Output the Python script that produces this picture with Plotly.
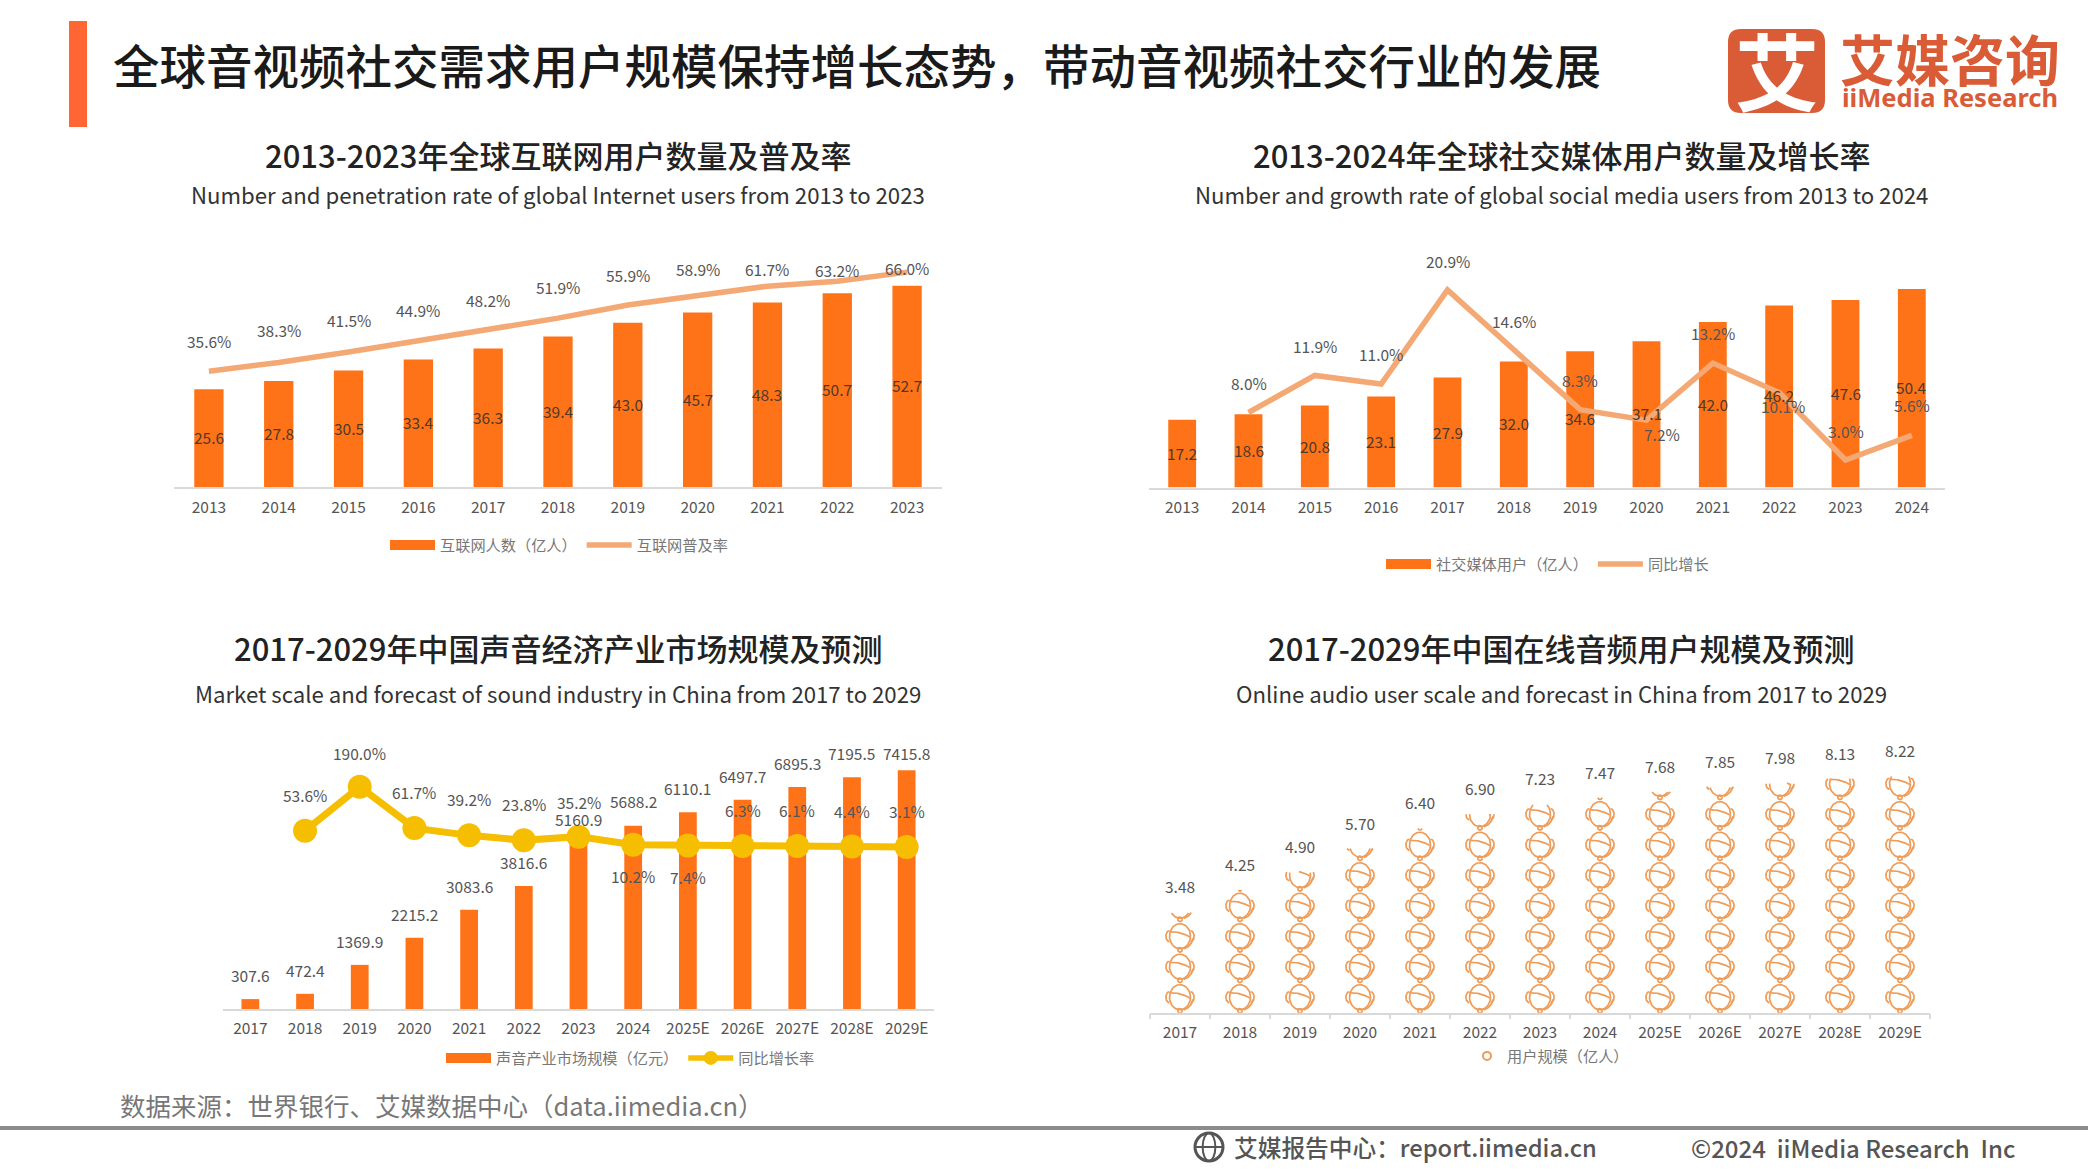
import numpy as np
import plotly.graph_objects as go

W, H = 2088, 1169
CJK = "Noto Sans CJK SC"

# ---------- data ----------
years_a = ["2013","2014","2015","2016","2017","2018","2019","2020","2021","2022","2023"]
internet_users = [25.6,27.8,30.5,33.4,36.3,39.4,43.0,45.7,48.3,50.7,52.7]
internet_rate = [35.6,38.3,41.5,44.9,48.2,51.9,55.9,58.9,61.7,63.2,66.0]

years_b = ["2013","2014","2015","2016","2017","2018","2019","2020","2021","2022","2023","2024"]
social_users = [17.2,18.6,20.8,23.1,27.9,32.0,34.6,37.1,42.0,46.2,47.6,50.4]
social_growth = [None,8.0,11.9,11.0,20.9,14.6,8.3,7.2,13.2,10.1,3.0,5.6]

years_c = ["2017","2018","2019","2020","2021","2022","2023","2024","2025E","2026E","2027E","2028E","2029E"]
sound_market = [307.6,472.4,1369.9,2215.2,3083.6,3816.6,5160.9,5688.2,6110.1,6497.7,6895.3,7195.5,7415.8]
sound_growth = [None,53.6,190.0,61.7,39.2,23.8,35.2,10.2,7.4,6.3,6.1,4.4,3.1]

audio_users = [3.48,4.25,4.90,5.70,6.40,6.90,7.23,7.47,7.68,7.85,7.98,8.13,8.22]

# ---------- styles ----------
BAR = "#FF7318"
LINE = "#F4A874"
YEL = "#F6BE00"
HEAD = "#EE9C58"
TXT = "#555555"
INBAR = "#4F3A2A"
AXIS = "#D9D9D9"
SHIFT_A = [30,32,32,31,30,31,30,26,17,11,4]
SHIFT_B = [0,30,29,30,29,29,30,-14,30,-13,29,30]
XSHIFT_B = [0,0,0,0,0,0,0,15,0,4,0,0]
SHIFT_C_BAR = [24,24,24,24,24,24,24,25,24,24,24,24,17]
SHIFT_C_LINE = [0,36,34,36,36,36,35,-31,-31,36,36,36,36]

fig = go.Figure()
ann, shapes = [], []

def px_x(p): return p / W
def px_y(p): return 1 - p / H

def text(px, py, s, size, color="#222222", anchor="left", weight=None, family=CJK):
    f = dict(size=size, color=color, family=family)
    if weight: f["weight"] = weight
    ann.append(dict(xref="paper", yref="paper", x=px_x(px), y=px_y(py), text=s, showarrow=False,
                    xanchor=anchor, yanchor="middle", font=f, borderpad=0, borderwidth=0))

def label(xa, ya, x, y, s, ys=0, xs=0, size=15.5, color=TXT):
    ann.append(dict(xref=xa, yref=ya, x=x, y=y, text=s, showarrow=False, xanchor="center", yanchor="middle",
                    yshift=ys, xshift=xs, font=dict(size=size, color=color, family=CJK)))

axes = {}
def xaxis(key, left, right, cats, **kw):
    d = dict(domain=[px_x(left), px_x(right)], showgrid=False, zeroline=False, showline=True, linecolor=AXIS,
             linewidth=1.5, ticks="", ticklen=0, ticklabelstandoff=5, type="category",
             categoryorder="array", categoryarray=cats, range=[-0.5, len(cats) - 0.5], autorange=False,
             tickfont=dict(size=15.5, color=TXT, family=CJK), anchor=kw.pop("anchor"), fixedrange=True)
    d.update(kw)
    axes[key] = d

def yaxis(key, base, top, scale, zero, anchor, overlay=None):
    lo = (zero - base) / scale
    hi = (zero - top) / scale
    d = dict(domain=[px_y(base), px_y(top)], range=[lo, hi], visible=False, anchor=anchor, fixedrange=True)
    if overlay:
        d["overlaying"] = overlay
        d["side"] = "right"
    axes[key] = d

def legend_item(name, legend, xa, ya, color, width, marker=None):
    kw = dict(mode="lines", line=dict(color=color, width=width))
    if marker:
        kw = dict(mode="lines+markers", line=dict(color=color, width=width), marker=dict(color=color, size=marker))
    fig.add_trace(go.Scatter(x=[None], y=[None], name=name, legend=legend, xaxis=xa, yaxis=ya, showlegend=True, **kw))

# ---------- panel 1 ----------
xaxis("xaxis", 174, 942, years_a, anchor="y")
yaxis("yaxis", 487.3, 250, 3.826, 487.3, "x")
yaxis("yaxis2", 487.3, 250, 3.26, 487.3, "x", overlay="y")
fig.add_trace(go.Bar(x=years_a, y=internet_users, width=0.42, marker=dict(color=BAR, line=dict(width=0)),
                     xaxis="x", yaxis="y", showlegend=False))
fig.add_trace(go.Scatter(x=years_a, y=internet_rate, mode="lines", line=dict(color=LINE, width=5.5),
                         xaxis="x", yaxis="y2", showlegend=False))
for i, c in enumerate(years_a):
    label("x", "y", i, internet_users[i] / 2, f"{internet_users[i]:.1f}", ys=1, color=INBAR)
    label("x", "y2", i, internet_rate[i], f"{internet_rate[i]:.1f}%", ys=SHIFT_A[i])
legend_item("互联网人数（亿人）", "legend", "x", "y", BAR, 10)
legend_item("互联网普及率", "legend", "x", "y", LINE, 5.5)

# ---------- panel 2 ----------
xaxis("xaxis2", 1149, 1945, years_b, anchor="y3")
yaxis("yaxis3", 487.5, 250, 3.94, 487.5, "x2")
yaxis("yaxis4", 487.5, 250, 9.5, 488.5, "x2", overlay="y3")
fig.add_trace(go.Bar(x=years_b, y=social_users, width=0.42, marker=dict(color=BAR, line=dict(width=0)),
                     xaxis="x2", yaxis="y3", showlegend=False))
fig.add_trace(go.Scatter(x=years_b, y=social_growth, mode="lines", line=dict(color=LINE, width=5.5),
                         xaxis="x2", yaxis="y4", showlegend=False))
for i, c in enumerate(years_b):
    label("x2", "y3", i, social_users[i] / 2, f"{social_users[i]:.1f}", ys=1, color=INBAR)
    if social_growth[i] is not None:
        label("x2", "y4", i, social_growth[i], f"{social_growth[i]:.1f}%", ys=SHIFT_B[i], xs=XSHIFT_B[i])
legend_item("社交媒体用户（亿人）", "legend2", "x2", "y3", BAR, 10)
legend_item("同比增长", "legend2", "x2", "y3", LINE, 5.5)

# ---------- panel 3 ----------
xaxis("xaxis3", 223, 934, years_c, anchor="y5")
yaxis("yaxis5", 1009, 750, 0.0322, 1009, "x3")
yaxis("yaxis6", 1009, 750, 0.3226, 848, "x3", overlay="y5")
fig.add_trace(go.Bar(x=years_c, y=sound_market, width=0.325, marker=dict(color=BAR, line=dict(width=0)),
                     xaxis="x3", yaxis="y5", showlegend=False))
fig.add_trace(go.Scatter(x=years_c, y=sound_growth, mode="lines+markers", line=dict(color=YEL, width=7),
                         marker=dict(color=YEL, size=24), xaxis="x3", yaxis="y6", showlegend=False))
for i, c in enumerate(years_c):
    label("x3", "y5", i, sound_market[i], f"{sound_market[i]:.1f}", ys=SHIFT_C_BAR[i])
    if sound_growth[i] is not None:
        label("x3", "y6", i, sound_growth[i], f"{sound_growth[i]:.1f}%", ys=SHIFT_C_LINE[i])
legend_item("声音产业市场规模（亿元）", "legend3", "x3", "y5", BAR, 10)
legend_item("同比增长率", "legend3", "x3", "y5", YEL, 5.5, marker=14)

# ---------- panel 4 : pictorial column of heads, clipped at each value ----------
PX_X, PX_Y, PERIOD = 60.0, 28.8, 30.5
idx = list(range(len(years_c)))
t = np.linspace(0, 2 * np.pi, 61)
def head_parts():
    parts = []
    parts.append((10.5 * np.cos(t), 15.5 + 12.5 * np.sin(t)))                     # face
    parts.append((2.3 * np.cos(t), 1.9 + 2.3 * np.sin(t)))                        # neck knob
    s = np.linspace(-1, 1, 21)
    parts.append((10 * s, 17.3 - 2.6 * s + 1.5 * (1 - s ** 2)))                   # hair line
    a = np.linspace(np.pi / 2, 3 * np.pi / 2, 21)
    parts.append((-10.5 + 3.6 * np.cos(a), 15.5 + 5.5 * np.sin(a)))               # left ear
    parts.append((10.5 - 3.6 * np.cos(a), 15.5 + 5.5 * np.sin(a)))                # right ear
    b = np.linspace(-0.15, -1.3, 21)
    parts.append((13.2 * np.cos(b), 15.5 + 13.2 * np.sin(b)))                     # headset mic
    return parts
xs, ys = [], []
for i, v in zip(idx, audio_users):
    top_px = v * PX_Y
    k = 0
    while k * PERIOD < top_px:
        for px, py in head_parts():
            yy = py + k * PERIOD
            m = yy <= top_px
            xs += list(i + px / PX_X) + [None]
            ys += [float(a) / PX_Y if ok else None for a, ok in zip(yy, m)] + [None]
        k += 1
xaxis("xaxis4", 1150, 1930, years_c, anchor="y7", type="linear", range=[-0.5, 12.5], tickmode="array",
      categoryorder=None, categoryarray=None, tickvals=idx, ticktext=years_c,
      minor=dict(tickmode="array", tickvals=[i - 0.5 for i in range(14)], ticks="outside", ticklen=5,
                 tickcolor=AXIS, tickwidth=1.5, showgrid=False))
yaxis("yaxis7", 1012.7, 750, PX_Y, 1012.7, "x4")
fig.add_trace(go.Scatter(x=xs, y=ys, mode="lines", line=dict(color=HEAD, width=1.7), connectgaps=False,
                         xaxis="x4", yaxis="y7", showlegend=False, name="用户规模（亿人）"))
for i, v in zip(idx, audio_users):
    label("x4", "y7", i, v, f"{v:.2f}", ys=26)
fig.add_trace(go.Scatter(x=[None], y=[None], name="用户规模（亿人）", mode="markers", legend="legend4",
                         marker=dict(symbol="circle-open", color=HEAD, size=8, line=dict(width=2)),
                         xaxis="x4", yaxis="y7", showlegend=True))

# ---------- header / titles ----------
shapes.append(dict(type="rect", xref="paper", yref="paper", x0=px_x(69), x1=px_x(87), y0=px_y(127), y1=px_y(21),
                   fillcolor="#FF6633", line=dict(width=0)))
text(113, 64, "全球音视频社交需求用户规模保持增长态势，带动音视频社交行业的发展", 46.5, "#1A1A1A", weight=500)

text(558, 154, "2013-2023年全球互联网用户数量及普及率", 31, "#222222", "center", weight=500)
text(558, 194, "Number and penetration rate of global Internet users from 2013 to 2023", 22.2, "#333333", "center")
text(1561, 154, "2013-2024年全球社交媒体用户数量及增长率", 31, "#222222", "center", weight=500)
text(1561, 194, "Number and growth rate of global social media users from 2013 to 2024", 22.2, "#333333", "center")
text(558, 647, "2017-2029年中国声音经济产业市场规模及预测", 31, "#222222", "center", weight=500)
text(558, 693, "Market scale and forecast of sound industry in China from 2017 to 2029", 22.2, "#333333", "center")
text(1561, 647, "2017-2029年中国在线音频用户规模及预测", 31, "#222222", "center", weight=500)
text(1561, 693, "Online audio user scale and forecast in China from 2017 to 2029", 22.2, "#333333", "center")

# logo
lx0, lx1, ly0, ly1, r = 1728, 1825, 29, 113, 13
X, Y = px_x, px_y
path = (f"M{X(lx0+r)},{Y(ly0)} L{X(lx1-r)},{Y(ly0)} Q{X(lx1)},{Y(ly0)} {X(lx1)},{Y(ly0+r)} "
        f"L{X(lx1)},{Y(ly1-r)} Q{X(lx1)},{Y(ly1)} {X(lx1-r)},{Y(ly1)} "
        f"L{X(lx0+r)},{Y(ly1)} Q{X(lx0)},{Y(ly1)} {X(lx0)},{Y(ly1-r)} "
        f"L{X(lx0)},{Y(ly0+r)} Q{X(lx0)},{Y(ly0)} {X(lx0+r)},{Y(ly0)} Z")
shapes.append(dict(type="path", xref="paper", yref="paper", path=path, fillcolor="#D95C36", line=dict(width=0)))
text(1776.5, 69, "艾", 84, "#FFFFFF", "center", weight=700)
text(1840, 57, "艾媒咨询", 55, "#D95C36", weight=700)
text(1842, 97, "iiMedia Research", 25.5, "#D95C36", weight=700, family="Noto Sans")

# footer
text(120, 1104, "数据来源：世界银行、艾媒数据中心（data.iimedia.cn）", 25.5, "#777777")
shapes.append(dict(type="line", xref="paper", yref="paper", x0=0, x1=1, y0=px_y(1128), y1=px_y(1128),
                   line=dict(color="#8C8C8C", width=4)))
gx, gy, gr = 1209, 1147, 14
rx, ry = gr / W, gr / H
shapes.append(dict(type="circle", xref="paper", yref="paper", x0=px_x(gx) - rx, x1=px_x(gx) + rx,
                   y0=px_y(gy) - ry, y1=px_y(gy) + ry, line=dict(color="#555555", width=3)))
shapes.append(dict(type="circle", xref="paper", yref="paper", x0=px_x(gx) - rx / 2.2, x1=px_x(gx) + rx / 2.2,
                   y0=px_y(gy) - ry, y1=px_y(gy) + ry, line=dict(color="#555555", width=2)))
shapes.append(dict(type="line", xref="paper", yref="paper", x0=px_x(gx) - rx, x1=px_x(gx) + rx,
                   y0=px_y(gy), y1=px_y(gy), line=dict(color="#555555", width=2)))
text(1234, 1147, "艾媒报告中心：report.iimedia.cn", 23.7, "#555555", weight=500)
text(1691, 1147, "©2024  iiMedia Research  Inc", 24, "#555555", weight=500)

def legend_cfg(x, y, iw=45):
    return dict(x=px_x(x), y=px_y(y), xanchor="left", yanchor="middle", orientation="h", itemwidth=iw,
                bgcolor="rgba(0,0,0,0)", borderwidth=0, font=dict(size=15.2, color="#777777", family=CJK),
                itemclick=False, itemdoubleclick=False)

fig.update_layout(
    width=W, height=H, margin=dict(l=0, r=0, t=0, b=0, pad=0, autoexpand=False), autosize=False,
    paper_bgcolor="#FFFFFF", plot_bgcolor="rgba(0,0,0,0)", barmode="overlay",
    font=dict(family=CJK), annotations=ann, shapes=shapes, hovermode=False,
    legend=legend_cfg(385, 545), legend2=legend_cfg(1381, 564), legend3=legend_cfg(441, 1058),
    legend4=legend_cfg(1467, 1056, iw=30),
    **axes,
)
fig.write_html("out.html", post_script="document.body.style.margin='0';document.documentElement.style.overflow='hidden';",
               config={"displayModeBar": False})
